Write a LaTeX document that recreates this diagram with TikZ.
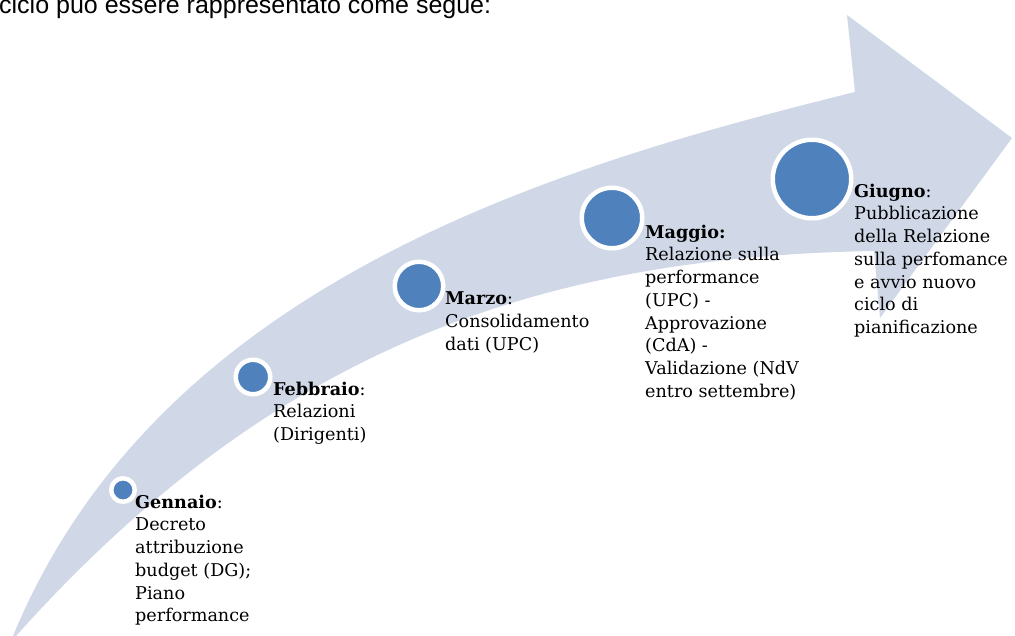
\documentclass[tikz,border=0pt]{standalone}
\usepackage{fontspec}
\setmainfont{DejaVu Serif}
\newfontfamily\introfont{Liberation Sans}
\definecolor{bandgray}{HTML}{D0D8E8}
\definecolor{dotblue}{HTML}{4F81BD}
\begin{document}
\begin{tikzpicture}[x=1pt, y=-1pt,
  milestone/.style={draw=white, line width=4.5pt, circle, fill=dotblue, inner sep=0pt},
  monthtext/.style={anchor=north west, align=left, inner sep=0pt, font=\fontsize{17.6}{22.7}\selectfont}]
\useasboundingbox (0,0) rectangle (1015,635);
\node[anchor=base west, inner sep=0pt, font=\introfont\fontsize{25}{30}\selectfont] (intro) at (-1,13.3) {ciclo può essere rappresentato come segue:};
\path[fill=bandgray] (13,636) .. controls (160,280) and (560,165) .. (855,92) -- (847,15) -- (1012,138) -- (880,318) -- (874,251) .. controls (524,257) and (265,358) .. (16,636) -- cycle;
\node[milestone, minimum size=23.5pt] (1) at (123,490) {};
\node[milestone, minimum size=34.5pt] (2) at (253,377) {};
\node[milestone, minimum size=48.5pt] (3) at (419,286) {};
\node[milestone, minimum size=60.5pt] (4) at (612,218) {};
\node[milestone, minimum size=78.5pt] (5) at (812,179) {};
\node[monthtext] (t1) at (135,494.7) {\textbf{Gennaio}:\\Decreto\\attribuzione\\budget (DG);\\Piano\\performance};
\node[monthtext] (t2) at (273,381.7) {\textbf{Febbraio}:\\Relazioni\\(Dirigenti)};
\node[monthtext] (t3) at (445,291.7) {\textbf{Marzo}:\\Consolidamento\\dati (UPC)};
\node[monthtext] (t4) at (645,224.7) {\textbf{Maggio:}\\Relazione sulla\\performance\\(UPC) -\\Approvazione\\(CdA) -\\Validazione (NdV\\entro settembre)};
\node[monthtext] (t5) at (854,183.7) {\textbf{Giugno}:\\Pubblicazione\\della Relazione\\sulla perfomance\\e avvio nuovo\\ciclo di\\pianificazione};
\end{tikzpicture}
\end{document}
